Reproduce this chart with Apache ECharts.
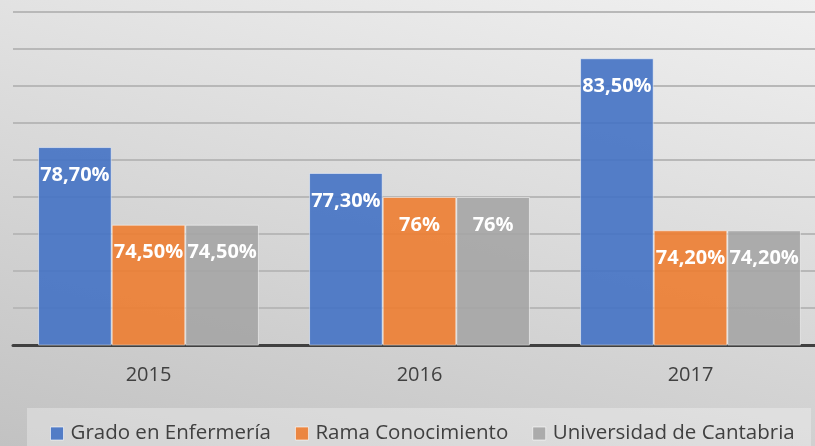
<!DOCTYPE html>
<html>
<head>
<meta charset="utf-8">
<script src="https://cdn.jsdelivr.net/npm/echarts@6/dist/echarts.min.js"></script>
<style>
  html, body { margin: 0; padding: 0; }
  #chart { width: 815px; height: 446px; }
</style>
</head>
<body>
<div id="chart"></div>
<script>
// datos
const years = ['2015', '2016', '2017'];
const grado = [78.7, 77.3, 83.5];
const rama = [74.5, 76, 74.2];
const universidad = [74.5, 76, 74.2];
const seriesNames = ['Grado en Enfermería', 'Rama Conocimiento', 'Universidad de Cantabria'];
const colors = ['rgba(68,114,196,0.9)', 'rgba(237,125,49,0.9)', 'rgba(165,165,165,0.9)'];

// 78.7 -> "78,70%", 76 -> "76%"
function pct(v) {
    const s = Number.isInteger(v) ? String(v) : v.toFixed(2).replace('.', ',');
    return s + '%';
}

const chart = echarts.init(document.getElementById('chart'));
const font = '"Open Sans", sans-serif';

function barSeries(name, data, color) {
    return {
        name: name,
        type: 'bar',
        data: data,
        barGap: '0%',
        barCategoryGap: '18.5%',
        itemStyle: {color: color, borderColor: 'rgba(255,255,255,0.5)', borderWidth: 1},
        label: {
            show: true,
            position: 'insideTop',
            distance: 18,
            color: '#fff',
            fontFamily: font,
            fontWeight: 'bold',
            fontSize: 20,
            lineHeight: 20,
            formatter: p => pct(p.value)
        }
    };
}

chart.setOption({
    backgroundColor: {
        type: 'linear', x: 1, y: 0, x2: 0.826, y2: 1.354,
        colorStops: [{offset: 0, color: '#f0f0f0'}, {offset: 1, color: '#c2c2c2'}]
    },
    animation: false,
    graphic: [{
        type: 'rect',
        left: 27, top: 408,
        shape: {width: 784, height: 50},
        style: {fill: 'rgba(255,255,255,0.3)'}
    }],
    legend: {
        left: 45, top: 418,
        itemWidth: 13, itemHeight: 13,
        itemGap: 24,
        icon: 'rect',
        itemStyle: {borderColor: 'rgba(255,255,255,0.6)', borderWidth: 1},
        textStyle: {fontFamily: font, fontSize: 20.5, color: '#404040', padding: [0, 0, 0, 2]},
        data: seriesNames
    },
    grid: {left: 13, width: 813, top: 12, bottom: 101, outerBoundsMode: 'none', containLabel: false},
    xAxis: {
        type: 'category',
        data: years,
        axisLine: {lineStyle: {color: '#404040', width: 3}},
        axisTick: {show: false},
        axisLabel: {fontFamily: font, fontSize: 20, color: '#404040', margin: 20}
    },
    yAxis: {
        type: 'value',
        min: 68, max: 86, interval: 2,
        axisLabel: {show: false},
        axisLine: {show: false},
        axisTick: {show: false},
        splitLine: {lineStyle: {color: '#b8b8b8', width: 2}}
    },
    series: [
        barSeries(seriesNames[0], grado, colors[0]),
        barSeries(seriesNames[1], rama, colors[1]),
        barSeries(seriesNames[2], universidad, colors[2])
    ]
});
</script>
</body>
</html>
